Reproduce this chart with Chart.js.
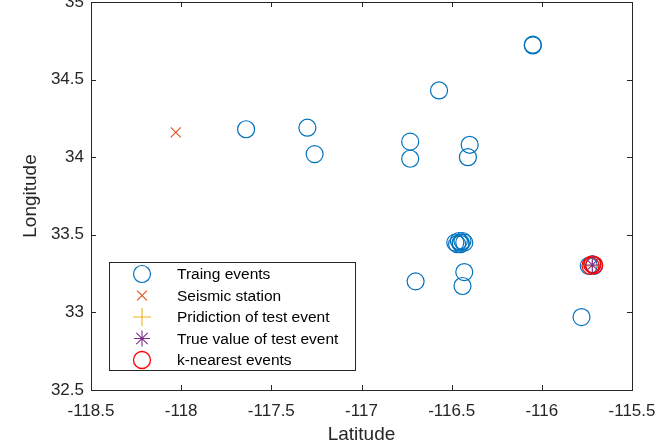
<!DOCTYPE html>
<html>
<head>
<meta charset="utf-8">
<script src="https://cdn.jsdelivr.net/npm/chart.js@4/dist/chart.umd.min.js"></script>
<style>
  html, body { margin: 0; padding: 0; background: #fff; }
</style>
</head>
<body>
<canvas id="quakeChart" width="667" height="446"></canvas>
<script>
const trainLon = [-116.05, -116.05, -116.57, -117.64, -117.30, -117.26, -116.73, -116.73, -116.40, -116.41,
  -116.48, -116.47, -116.46, -116.45, -116.44, -116.43, -116.45, -116.43, -116.44, -116.70, -115.78,
  -115.74, -115.72, -115.71];
const trainLat = [34.72, 34.725, 34.43, 34.18, 34.19, 34.02, 34.10, 33.99, 34.08, 34.00,
  33.45, 33.44, 33.46, 33.45, 33.46, 33.45, 33.44, 33.26, 33.17, 33.20, 32.97,
  33.30, 33.31, 33.30];
const stationLon = [-118.03];
const stationLat = [34.16];
const predLon = [-115.72];
const predLat = [33.30];
const trueLon = [-115.72];
const trueLat = [33.305];
const knnLon = [-115.73, -115.72, -115.71];
const knnLat = [33.30, 33.31, 33.305];

const xTicks = [-118.5, -118, -117.5, -117, -116.5, -116, -115.5];
const yTicks = [32.5, 33, 33.5, 34, 34.5, 35];

const labels = ["Traing events", "Seismic station", "Pridiction of test event", "True value of test event", "k-nearest events"];

const toPoints = (xs, ys) => xs.map((x, i) => ({ x: x, y: ys[i] }));

const FONT = "'Liberation Sans', Arial, Helvetica, sans-serif";

// matlab style box, inward ticks, legend inside the axes
const boxPlugin = {
  id: "boxPlugin",
  afterDraw(chart) {
    const { ctx, chartArea: a, scales } = chart;
    ctx.save();
    ctx.strokeStyle = "#262626";
    ctx.lineWidth = 1;
    ctx.strokeRect(a.left + 0.5, a.top + 0.5, a.right - a.left, a.bottom - a.top);
    ctx.beginPath();
    xTicks.forEach(v => {
      const px = Math.round(scales.x.getPixelForValue(v)) + 0.5;
      ctx.moveTo(px, a.bottom); ctx.lineTo(px, a.bottom - 5);
      ctx.moveTo(px, a.top); ctx.lineTo(px, a.top + 5);
    });
    yTicks.forEach(v => {
      const py = Math.round(scales.y.getPixelForValue(v)) + 0.5;
      ctx.moveTo(a.left, py); ctx.lineTo(a.left + 5, py);
      ctx.moveTo(a.right, py); ctx.lineTo(a.right - 5, py);
    });
    ctx.stroke();

    // legend
    const lx = 109, ly = 262, lw = 246, lh = 108;
    ctx.fillStyle = "#fff";
    ctx.fillRect(lx, ly, lw, lh);
    ctx.strokeStyle = "#262626";
    ctx.strokeRect(lx + 0.5, ly + 0.5, lw, lh);
    ctx.font = "15.5px " + FONT;
    ctx.textBaseline = "middle";
    chart.data.datasets.forEach((ds, i) => {
      const cy = ly + 12 + i * 21.5;
      ctx.strokeStyle = ds.borderColor;
      ctx.fillStyle = "rgba(0,0,0,0)";
      ctx.lineWidth = ds.borderWidth;
      Chart.helpers.drawPoint(ctx, {
        pointStyle: ds.pointStyle,
        radius: ds.pointRadius,
        rotation: 0,
        borderWidth: ds.borderWidth
      }, 142, cy);
      ctx.fillStyle = "#000";
      ctx.fillText(ds.label, 177, cy + 1);
    });
    ctx.restore();
  }
};

new Chart(document.getElementById("quakeChart"), {
  type: "scatter",
  data: {
    datasets: [
      { label: labels[0], data: toPoints(trainLon, trainLat), pointStyle: "circle", pointRadius: 8.5,
        borderColor: "#0072BD", backgroundColor: "rgba(0,0,0,0)", borderWidth: 1.2, order: 5 },
      { label: labels[1], data: toPoints(stationLon, stationLat), pointStyle: "crossRot", pointRadius: 7,
        borderColor: "#D95319", backgroundColor: "rgba(0,0,0,0)", borderWidth: 1.1, order: 4 },
      { label: labels[2], data: toPoints(predLon, predLat), pointStyle: "cross", pointRadius: 9,
        borderColor: "#EDB120", backgroundColor: "rgba(0,0,0,0)", borderWidth: 1.1, order: 3 },
      { label: labels[3], data: toPoints(trueLon, trueLat), pointStyle: "star", pointRadius: 8,
        borderColor: "#7E2F8E", backgroundColor: "rgba(0,0,0,0)", borderWidth: 1.1, order: 1 },
      { label: labels[4], data: toPoints(knnLon, knnLat), pointStyle: "circle", pointRadius: 8.5,
        borderColor: "#FF0000", backgroundColor: "rgba(0,0,0,0)", borderWidth: 1.3, order: 2 }
    ]
  },
  options: {
    responsive: false,
    animation: false,
    layout: { autoPadding: false, padding: { top: 2, right: 35, left: 0, bottom: 0 } },
    plugins: {
      legend: { display: false },
      tooltip: { enabled: false }
    },
    scales: {
      x: {
        type: "linear",
        min: -118.5, max: -115.5,
        afterBuildTicks: s => { s.ticks = xTicks.map(v => ({ value: v })); },
        afterFit: s => { s.height = 56; },
        grid: { display: false, drawTicks: false },
        border: { display: false },
        ticks: { color: "#262626", padding: 11, font: { family: FONT, size: 17 },
          callback: v => String(v) },
        title: { display: true, text: "Latitude", color: "#262626",
          font: { family: FONT, size: 19 }, padding: { top: 0, bottom: 0 } }
      },
      y: {
        type: "linear",
        min: 32.5, max: 35,
        afterBuildTicks: s => { s.ticks = yTicks.map(v => ({ value: v })); },
        afterFit: s => {
          s.width = 91;
          // let the top label hang over the edge, like the original
          s.getPadding = () => ({ left: 0, top: 0, right: 0, bottom: 0 });
        },
        grid: { display: false, drawTicks: false },
        border: { display: false },
        ticks: { color: "#262626", padding: 7, font: { family: FONT, size: 17 },
          callback: v => String(v) },
        title: { display: true, text: "Longitude", color: "#262626",
          font: { family: FONT, size: 19 }, padding: { top: 19, bottom: 0 } }
      }
    }
  },
  plugins: [boxPlugin]
});
</script>
</body>
</html>
